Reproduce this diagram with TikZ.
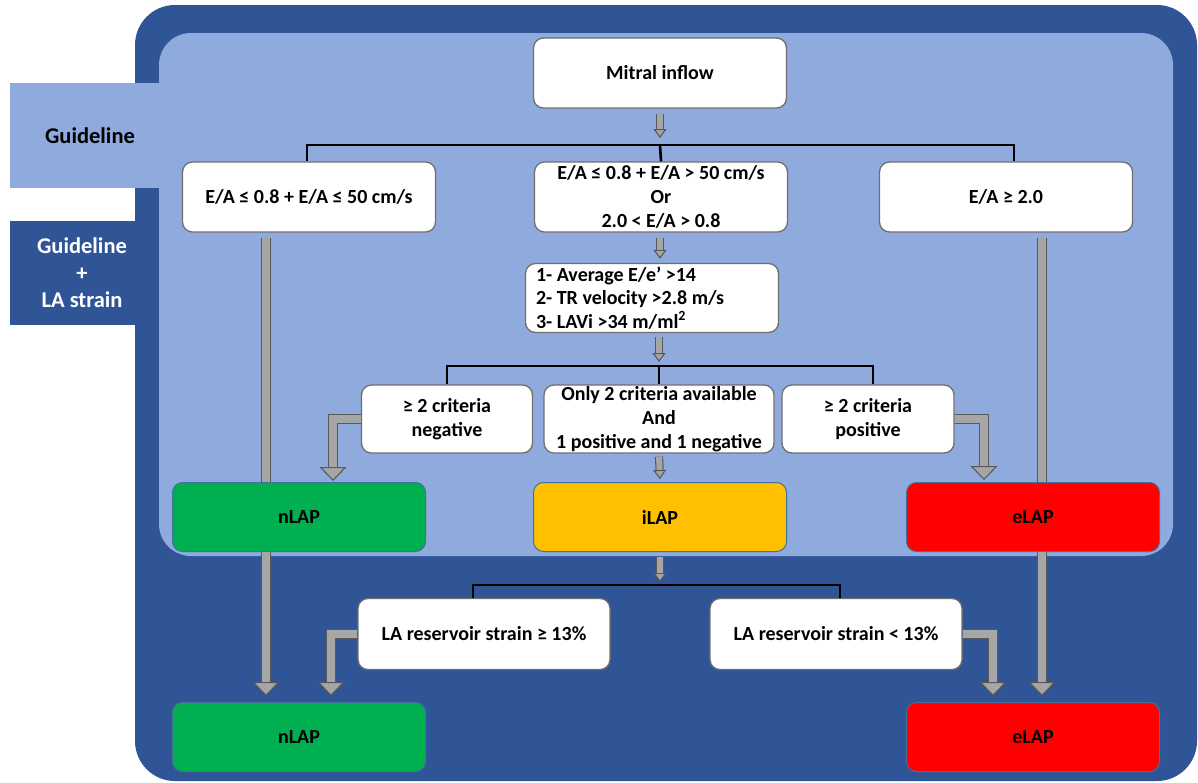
\documentclass[tikz,border=0pt]{standalone}
\usepackage{fontspec}
\setmainfont{Carlito}
\usetikzlibrary{arrows.meta}
\usetikzlibrary{positioning}

\definecolor{darkpanel}{HTML}{2F5597}
\definecolor{lightpanel}{HTML}{8FAADC}
\definecolor{lapgreen}{HTML}{00B050}
\definecolor{lapamber}{HTML}{FFC000}
\definecolor{lapred}{HTML}{FF0000}
\definecolor{arrowgray}{HTML}{A6A6A6}
\definecolor{arrowedge}{HTML}{595959}
\definecolor{boxedge}{HTML}{6F6F6F}
\definecolor{lapedge}{HTML}{41719C}

\tikzset{
  box/.style={draw=boxedge, line width=1.3pt, fill=white, rounded corners=10pt,
    minimum width=253pt, minimum height=70pt, align=center,
    font=\fontsize{20}{24}\selectfont\bfseries},
  lap/.style={box, draw=lapedge, line width=1pt, minimum height=69pt},
  tabtext/.style={align=center, font=\fontsize{22.5}{27}\selectfont\bfseries},
  fork/.style={line width=2.6pt, black},
  thinarrow/.style={draw=arrowedge, line width=1.1pt, double=arrowgray, double distance=6pt,
    -{Triangle[width=13pt,length=9pt,fill=arrowgray]}},
  fatarrow/.style={draw=arrowedge, line width=1.1pt, double=arrowgray, double distance=8.5pt,
    -{Triangle[width=27pt,length=14pt,fill=arrowgray]}},
  fatbar/.style={draw=arrowedge, line width=1.1pt, double=arrowgray, double distance=8.5pt}
}

\begin{document}
\begin{tikzpicture}[x=1pt,y=-1pt]
  \useasboundingbox (0,0) rectangle (1198,782);
  \fill[white] (0,0) rectangle (1198,782);
  \fill[darkpanel, rounded corners=40pt] (135,5) rectangle (1197,781);
  \fill[darkpanel] (10,221) rectangle (160,325);
  \fill[lightpanel] (10,83) rectangle (170,188);
  \fill[lightpanel, rounded corners=32pt] (159,33) rectangle (1173,556);
  \node[tabtext] (guide) at (90,136) {Guideline};
  \node[tabtext, text=white] (guidestrain) at (82,273) {Guideline\\+\\LA strain};

  \node[box] (mitral) at (660,73) {Mitral inflow};
  \node[box] (ealow) at (309,197) {E/A ≤ 0.8 + E/A ≤ 50 cm/s};
  \node[box] (eamid) at (661,197) {E/A ≤ 0.8 + E/A > 50 cm/s\\Or\\2.0 < E/A > 0.8};
  \node[box] (eahigh) at (1006,197) {E/A ≥ 2.0};
  \node[box, minimum height=69pt] (crit) at (652,298) {};
  \node[anchor=west, align=left, font=\fontsize{20}{23.5}\selectfont\bfseries, inner sep=0pt]
    (crittext) at ([xshift=11pt]crit.west)
    {1- Average E/e’ >14\\2- TR velocity >2.8 m/s\\3- LAVi >34 m/ml\textsuperscript{2}};
  \node[box, minimum width=171pt, minimum height=68pt] (neg) at (447,419) {≥ 2 criteria\\negative};
  \node[box, minimum width=230pt, minimum height=68pt, inner sep=1pt] (only2) at (659,419)
    {Only 2 criteria available\\And\\1 positive and 1 negative};
  \node[box, minimum width=172pt, minimum height=68pt] (pos) at (868,419) {≥ 2 criteria\\positive};
  \node[lap, fill=lapgreen] (nlapa) at (299,517) {nLAP};
  \node[lap, fill=lapamber] (ilap) at (660,517) {iLAP};
  \node[lap, fill=lapred] (elapa) at (1033,517) {eLAP};
  \node[box, minimum width=252pt, minimum height=71pt] (lahigh) at (484,634) {LA reservoir strain ≥ 13\%};
  \node[box, minimum width=252pt, minimum height=71pt] (lalow) at (836,634) {LA reservoir strain < 13\%};
  \node[lap, fill=lapgreen] (nlapb) at (299,737) {nLAP};
  \node[lap, fill=lapred] (elapb) at (1033,737) {eLAP};

  \coordinate (topfork) at (660,145);
  \coordinate (critfork) at (659,366);
  \coordinate (strainfork) at (660,585);

  \draw[fork] ([xshift=-2pt]ealow.north) |- (topfork) -| ([xshift=8pt]eahigh.north);
  \draw[fork] (topfork) -- (eamid.north);
  \draw[fork] (neg.north) |- (critfork) -| ([xshift=5pt]pos.north);
  \draw[fork] (critfork) -- (only2.north);
  \draw[fork] ([xshift=-11pt]lahigh.north) |- (strainfork) -| ([xshift=4pt]lalow.north);

  \draw[thinarrow] ([yshift=-5pt]mitral.south) -- ([yshift=7pt]topfork);
  \draw[thinarrow] ([yshift=-5pt]eamid.south -| mitral.south) -- ([yshift=4pt]crit.north -| mitral.south);
  \draw[thinarrow] ([yshift=-4pt]crit.south -| critfork) -- ([yshift=4pt]critfork);
  \draw[thinarrow] ([yshift=-3pt]only2.south) -- ([yshift=3pt]ilap.north);
  \draw[thinarrow] ([yshift=-5pt]ilap.south) -- ([yshift=3pt]strainfork);

  \draw[fatbar] ([xshift=-43pt,yshift=-5pt]ealow.south) -- ([xshift=-33pt]nlapa.north);
  \draw[fatarrow] ([xshift=-33pt]nlapa.south) -- ([xshift=-33pt,yshift=6pt]nlapb.north);
  \draw[fatbar] ([xshift=36pt,yshift=-5pt]eahigh.south) -- ([xshift=9pt]elapa.north);
  \draw[fatarrow] ([xshift=9pt]elapa.south) -- ([xshift=9pt,yshift=6pt]elapb.north);

  \draw[fatarrow] (neg.west) -| ([xshift=34pt,yshift=1pt]nlapa.north);
  \draw[fatarrow] (pos.east) -| ([xshift=-49pt,yshift=2pt]elapa.north);
  \draw[fatarrow] (lahigh.west) -| ([xshift=32pt,yshift=6pt]nlapb.north);
  \draw[fatarrow] (lalow.east) -| ([xshift=-40pt,yshift=6pt]elapb.north);
\end{tikzpicture}
\end{document}
